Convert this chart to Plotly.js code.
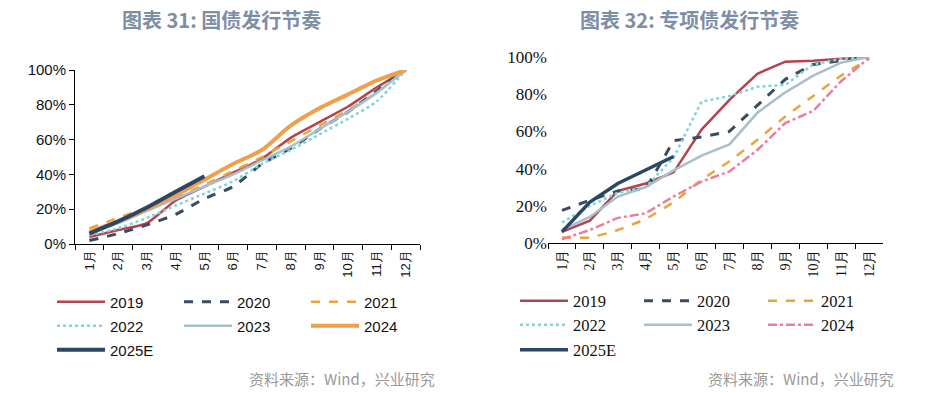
<!DOCTYPE html>
<html><head><meta charset="utf-8">
<script src="https://cdn.plot.ly/plotly-3.0.1.min.js"></script>
<style>html,body{margin:0;padding:0;background:#fff}#c{width:925px;height:393px}</style>
</head><body><div id="c"></div>
<script>
const months = ['1月','2月','3月','4月','5月','6月','7月','8月','9月','10月','11月','12月'];
const yTicks = [0,0.2,0.4,0.6,0.8,1.0];
const yTickText = ['0%','20%','40%','60%','80%','100%'];

// 图表31 国债发行节奏
const gz2019 = [0.04,0.08,0.12,0.25,0.33,0.41,0.49,0.61,0.70,0.79,0.90,1.00];
const gz2020 = [0.02,0.06,0.11,0.17,0.26,0.33,0.46,0.55,0.66,0.76,0.88,1.00];
const gz2021 = [0.09,0.15,0.21,0.27,0.34,0.42,0.50,0.59,0.68,0.77,0.87,1.00];
const gz2022 = [0.05,0.09,0.15,0.22,0.29,0.36,0.46,0.54,0.63,0.72,0.82,1.00];
const gz2023 = [0.06,0.12,0.19,0.26,0.33,0.40,0.48,0.56,0.66,0.76,0.87,1.00];
const gz2024 = [0.07,0.13,0.20,0.28,0.37,0.46,0.54,0.68,0.78,0.86,0.94,1.00];
const gz2025E = [0.06,0.13,0.21,0.30,0.39];

// 图表32 专项债发行节奏
const zx2019 = [0.06,0.12,0.28,0.32,0.38,0.61,0.77,0.91,0.975,0.98,0.99,1.00];
const zx2020 = [0.175,0.23,0.28,0.29,0.55,0.57,0.60,0.74,0.88,0.96,0.98,1.00];
const zx2021 = [0.03,0.03,0.07,0.13,0.22,0.34,0.44,0.555,0.68,0.79,0.90,0.99];
const zx2022 = [0.11,0.20,0.27,0.30,0.46,0.76,0.79,0.84,0.85,0.96,0.99,1.00];
const zx2023 = [0.07,0.14,0.25,0.30,0.39,0.47,0.53,0.70,0.81,0.90,0.97,1.00];
const zx2024 = [0.02,0.07,0.135,0.16,0.25,0.33,0.385,0.50,0.645,0.71,0.87,0.995];
const zx2025E = [0.06,0.22,0.32,0.39,0.465];

const leftNames = ['2019','2020','2021','2022','2023','2024','2025E'];
const rightNames = ['2019','2020','2021','2022','2023','2024','2025E'];

const C = {r:'#b5434f', d:'#3d4b5f', o:'#e8a63a', t:'#7fd6d6', b:'#a8bfd0', or:'#f0a04b', p:'#ea7f9c', n:'#2c4666'};

function tr(name, y, xa, ya, color, width, dash, legend, shape) {
  return {type:'scatter', mode:'lines', name:name, x: months.slice(0,y.length), y:y,
    xaxis:xa, yaxis:ya, legend:legend, hoverinfo:'skip',
    line:{color:color, width:width, dash:dash, shape:shape||'linear', smoothing:0.6}};
}

const data = [
  tr(leftNames[0], gz2019,'x','y',C.r,2.5,'solid','legend','spline'),
  tr(leftNames[1], gz2020,'x','y',C.d,3,'dash','legend','spline'),
  tr(leftNames[2], gz2021,'x','y',C.o,2.5,'dash','legend','spline'),
  tr(leftNames[3], gz2022,'x','y',C.t,2.5,'dot','legend2','spline'),
  tr(leftNames[4], gz2023,'x','y',C.b,2.5,'solid','legend2','spline'),
  tr(leftNames[5], gz2024,'x','y',C.or,4,'solid','legend2','spline'),
  tr(leftNames[6], gz2025E,'x','y',C.n,4,'solid','legend3','spline'),
  tr(rightNames[0], zx2019,'x2','y2',C.r,2.5,'solid','legend4'),
  tr(rightNames[1], zx2020,'x2','y2',C.d,3,'dash','legend4'),
  tr(rightNames[2], zx2021,'x2','y2',C.o,2.5,'dash','legend4','spline'),
  tr(rightNames[3], zx2022,'x2','y2',C.t,2.5,'dot','legend5'),
  tr(rightNames[4], zx2023,'x2','y2',C.b,2.5,'solid','legend5'),
  tr(rightNames[5], zx2024,'x2','y2',C.p,2.5,'dashdot','legend5'),
  tr(rightNames[6], zx2025E,'x2','y2',C.n,3.5,'solid','legend6'),
];

const W = 925, H = 393;
const px = v => v / W, py = v => 1 - v / H;

function leg(xpx, ypx, family, size, ew) {
  return {orientation:'h', x:px(xpx), xanchor:'left', y:py(ypx), yanchor:'middle',
    entrywidth:ew, entrywidthmode:'pixels', itemwidth:48, tracegroupgap:0,
    font:{family:family, size:size, color:'#111'}, bgcolor:'rgba(0,0,0,0)', borderwidth:0, itemclick:false};
}
const sans = '"Liberation Sans", Arial, sans-serif';
const serif = '"Liberation Serif", "Times New Roman", serif';
const cjk = '"Noto Sans CJK SC", sans-serif';

const layout = {
  width:W, height:H, margin:{l:0,r:0,t:0,b:0,autoexpand:false}, paper_bgcolor:'#fff', plot_bgcolor:'#fff',
  showlegend:true,
  xaxis:{domain:[px(75),px(420)], anchor:'y', type:'category', range:[-0.5,11.5], tickson:'boundaries',
    ticks:'outside', ticklen:5, tickcolor:'#000', showline:true, linecolor:'#000', linewidth:1,
    showgrid:false, zeroline:false, tickangle:-90, tickfont:{family:sans, size:13, color:'#111'}},
  yaxis:{domain:[py(244),py(70)], anchor:'x', range:[0,1], tickvals:yTicks, ticktext:yTickText,
    ticks:'outside', ticklen:5, tickcolor:'#000', showline:true, linecolor:'#000', linewidth:1,
    showgrid:false, zeroline:false, tickfont:{family:sans, size:15, color:'#111'}},
  xaxis2:{domain:[px(548),px(883)], anchor:'y2', type:'category', range:[-0.5,11.5], tickson:'boundaries',
    ticks:'outside', ticklen:5, tickcolor:'#000', showline:true, linecolor:'#000', linewidth:1,
    showgrid:false, zeroline:false, tickangle:-90, tickfont:{family:serif, size:14, color:'#111'}},
  yaxis2:{domain:[py(243),py(57)], anchor:'x2', range:[0,1], tickvals:yTicks, ticktext:yTickText,
    ticks:'', showline:false, showgrid:false, zeroline:false, tickfont:{family:serif, size:17, color:'#111'}},
  legend: leg(52,302,sans,15,64),
  legend2: leg(52,326,sans,15,64),
  legend3: leg(52,350,sans,15,64),
  legend4: leg(515,301,serif,16.5,61),
  legend5: leg(515,325,serif,16.5,61),
  legend6: leg(515,350,serif,16.5,61),
  annotations:[
    {xref:'paper',yref:'paper',x:px(221),y:py(19),xanchor:'center',yanchor:'middle',showarrow:false,
     text:'<b>图表 31: 国债发行节奏</b>', font:{family:cjk,size:20,color:'#7d8ea5'}},
    {xref:'paper',yref:'paper',x:px(689),y:py(19),xanchor:'center',yanchor:'middle',showarrow:false,
     text:'<b>图表 32: 专项债发行节奏</b>', font:{family:cjk,size:20,color:'#7d8ea5'}},
    {xref:'paper',yref:'paper',x:px(437),y:py(378),xanchor:'right',yanchor:'middle',showarrow:false,
     text:'资料来源：Wind，兴业研究', font:{family:cjk,size:15,color:'#999'}},
    {xref:'paper',yref:'paper',x:px(896),y:py(378),xanchor:'right',yanchor:'middle',showarrow:false,
     text:'资料来源：Wind，兴业研究', font:{family:cjk,size:15,color:'#999'}}
  ]
};

Plotly.newPlot('c', data, layout, {staticPlot:true, displayModeBar:false});
</script></body></html>
